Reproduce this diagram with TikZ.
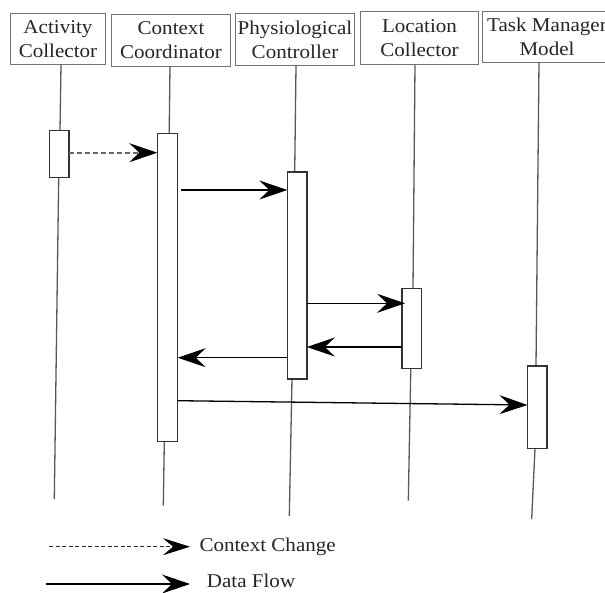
\documentclass[tikz,border=0pt]{standalone}
\usepackage{fontspec}
\setmainfont{Liberation Serif}[FakeStretch=1.08]
\usetikzlibrary{arrows.meta}
\begin{document}
\begin{tikzpicture}[x=1pt,y=-1pt,
  headbox/.style={draw=black!55,line width=1pt,fill=white,inner sep=0pt,outer sep=0pt,align=center,
    font=\fontsize{19.5}{24.6}\selectfont,text=black!85},
  actbox/.style={draw=black!80,line width=1.5pt,fill=white,inner sep=0pt,outer sep=0pt,minimum width=19.5},
  lifeline/.style={draw=black!65,line width=1.3pt},
  flowline/.style={draw=black,line width=1.3pt,-{Stealth[length=28pt,width=19pt,inset=10pt]}},
  changeline/.style={draw=black!60,line width=1.9pt,dash pattern=on 5pt off 3pt,-{Stealth[length=28pt,width=19pt,inset=10pt,black]}},
  legenddash/.style={draw=black!85,line width=1pt,dash pattern=on 4pt off 2.5pt,-{Stealth[length=27pt,width=17pt,inset=10pt,black]}},
  legendtext/.style={inner sep=0pt,anchor=base west,font=\fontsize{19.5}{24}\selectfont,text=black!85}]
\useasboundingbox (0,0) rectangle (605,592);
\clip (0,0) rectangle (605,592);
\fill[white] (0,0) rectangle (605,592);

% headers
\node[headbox,minimum width=94.6,minimum height=51.4] (ha) at (58,39) {Activity\\Collector};
\node[headbox,minimum width=119.4,minimum height=52] (hc) at (171,40) {Context\\Coordinator};
\node[headbox,minimum width=118.6,minimum height=51.7] (hp) at (295,39.8) {Physiological\\Controller};
\node[headbox,minimum width=118.4,minimum height=52.5] (hl) at (419.5,38.2) {Location\\Collector};
\node[headbox,minimum width=128.4,minimum height=50.3] (ht) at (547,36.9) {Task Manager\\Model};

% lifeline end points
\coordinate (aTop) at (61,64.7);   \coordinate (aEnd) at (54.3,499);
\coordinate (cTop) at (170,66);    \coordinate (cEnd) at (163.3,505.7);
\coordinate (pTop) at (296,65.7);  \coordinate (pEnd) at (289.3,516);
\coordinate (lTop) at (415,64.5);  \coordinate (lEnd) at (408.3,500.7);
\coordinate (tTop) at (539,62);    \coordinate (tEnd) at (531.7,519);
\coordinate (aIn) at (60,130.7);   \coordinate (aOut) at (58.7,177.7);
\coordinate (cIn) at (169.2,133.3); \coordinate (cOut) at (164.3,441.7);
\coordinate (pIn) at (294.7,172);  \coordinate (pOut) at (292,379);
\coordinate (lIn) at (413,288.3);  \coordinate (lOut) at (410.8,368.3);
\coordinate (tIn) at (536,366);    \coordinate (tOut) at (535,448.3);

\draw[lifeline] (aTop) -- (aIn) (aOut) -- (aEnd);
\draw[lifeline] (cTop) -- (cIn) (cOut) -- (cEnd);
\draw[lifeline] (pTop) -- (pIn) (pOut) -- (pEnd);
\draw[lifeline] (lTop) -- (lIn) (lOut) -- (lEnd);
\draw[lifeline] (tTop) -- (tIn) (tOut) -- (tEnd);

% activation boxes
\node[actbox,minimum height=47] (A1) at (59.2,154.2) {};
\node[actbox,minimum width=20.4,minimum height=308.4] (C1) at (167.5,287.5) {};
\node[actbox,minimum height=207] (P1) at (297.1,275.5) {};
\node[actbox,minimum height=80] (L1) at (411.85,328.3) {};
\node[actbox,minimum height=82.3] (T1) at (537.2,407.15) {};

% message levels
\coordinate (y1) at (0,152.7);
\coordinate (y2) at (0,190);
\coordinate (y3) at (0,303.3);
\coordinate (y4) at (0,347);
\coordinate (y5) at (0,357.7);
\coordinate (y6a) at (0,400.7);
\coordinate (y6b) at (0,405);

\draw[changeline] (A1.east |- y1) -- (C1.west |- y1);
\draw[flowline] ([xshift=3.5pt]C1.east |- y2) -- (P1.west |- y2);
\draw[flowline] (P1.east |- y3) -- ([xshift=3pt]L1.west |- y3);
\draw[flowline] (L1.west |- y4) -- (P1.east |- y4);
\draw[flowline] (P1.west |- y5) -- (C1.east |- y5);
\draw[flowline] (C1.east |- y6a) -- (T1.west |- y6b);

% legend
\coordinate (lgA) at (49.3,546.7); \coordinate (lgB) at (190,546.7);
\coordinate (lgC) at (46,584);     \coordinate (lgD) at (190,584);
\draw[legenddash] (lgA) -- (lgB);
\draw[flowline] (lgC) -- (lgD);
\node[legendtext] (lt1) at (199.3,551.7) {Context Change};
\node[legendtext] (lt2) at (206.7,587.3) {Data Flow};
\end{tikzpicture}
\end{document}
